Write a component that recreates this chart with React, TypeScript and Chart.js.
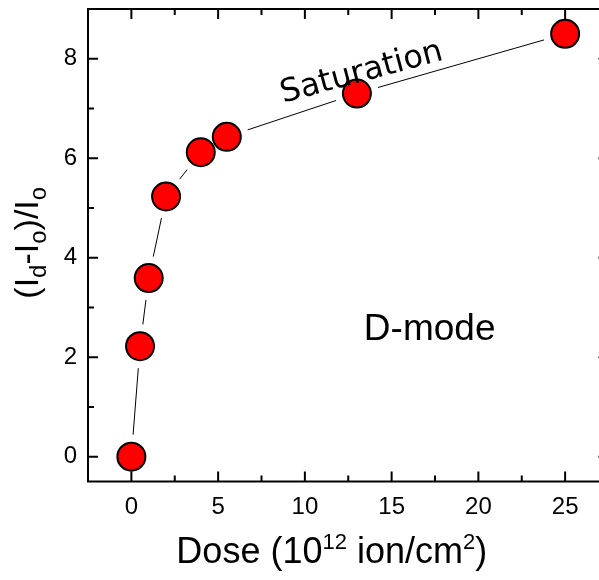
import React, { useEffect, useRef } from "react";
import { Chart, registerables } from "chart.js";

Chart.register(...registerables);

// ---- data ----
const doses = [0, 0.5, 1, 2, 4, 5.5, 13, 25];
const ratios = [0, 2.22, 3.59, 5.23, 6.12, 6.43, 7.3, 8.5];
const xTicks = [0, 5, 10, 15, 20, 25];
const xMinorTicks = [2.5, 7.5, 12.5, 17.5, 22.5];
const yTicks = [0, 2, 4, 6, 8];
const yMinorTicks = [1, 3, 5, 7];

const X_MIN = -2.5;
const X_MAX = 27.5;
const Y_MIN = -0.5;
const Y_MAX = 9;

const CANVAS_W = 620;
const CANVAS_H = 580;
const SANS = "'Liberation Sans', Arial, sans-serif";

type Seg = { t: string; size: number; dy: number };

function drawSegs(ctx: CanvasRenderingContext2D, segs: Seg[], cx: number, baseY: number) {
  let total = 0;
  for (const s of segs) {
    ctx.font = `${s.size}px ${SANS}`;
    total += ctx.measureText(s.t).width;
  }
  let x = cx - total / 2;
  ctx.textAlign = "left";
  ctx.textBaseline = "alphabetic";
  for (const s of segs) {
    ctx.font = `${s.size}px ${SANS}`;
    ctx.fillText(s.t, x, baseY + s.dy);
    x += ctx.measureText(s.t).width;
  }
}

const framePlugin = {
  id: "frameTicks",
  beforeDatasetsDraw(chart: any) {
    const { ctx, chartArea: ca, scales } = chart;
    const xs = scales.x;
    const ys = scales.y;
    ctx.save();
    ctx.strokeStyle = "#000";
    ctx.lineWidth = 2;
    const major = 10;
    const minor = 6;
    const xt = (v: number, len: number) => {
      const px = xs.getPixelForValue(v);
      ctx.beginPath();
      ctx.moveTo(px, ca.bottom);
      ctx.lineTo(px, ca.bottom - len);
      ctx.moveTo(px, ca.top);
      ctx.lineTo(px, ca.top + len);
      ctx.stroke();
    };
    const yt = (v: number, len: number) => {
      const py = ys.getPixelForValue(v);
      ctx.beginPath();
      ctx.moveTo(ca.left, py);
      ctx.lineTo(ca.left + len, py);
      ctx.moveTo(ca.right, py);
      ctx.lineTo(ca.right - len, py);
      ctx.stroke();
    };
    xTicks.forEach((v) => xt(v, major));
    xMinorTicks.forEach((v) => xt(v, minor));
    yTicks.forEach((v) => yt(v, major));
    yMinorTicks.forEach((v) => yt(v, minor));
    ctx.strokeRect(ca.left, ca.top, ca.right - ca.left, ca.bottom - ca.top);

    // connecting line with gaps near markers
    const meta = chart.getDatasetMeta(0);
    const pts = meta.data;
    const gap = 22;
    ctx.lineWidth = 1;
    for (let i = 0; i < pts.length - 1; i++) {
      const a = pts[i];
      const b = pts[i + 1];
      const dx = b.x - a.x;
      const dy = b.y - a.y;
      const d = Math.hypot(dx, dy);
      if (d <= 2 * gap) continue;
      const ux = dx / d;
      const uy = dy / d;
      ctx.beginPath();
      ctx.moveTo(a.x + ux * gap, a.y + uy * gap);
      ctx.lineTo(b.x - ux * gap, b.y - uy * gap);
      ctx.stroke();
    }
    ctx.restore();
  },
  afterDraw(chart: any) {
    const { ctx, scales } = chart;
    const xs = scales.x;
    const ys = scales.y;
    ctx.save();
    ctx.fillStyle = "#000";

    // x title
    drawSegs(
      ctx,
      [
        { t: "Dose (10", size: 36, dy: 0 },
        { t: "12", size: 22, dy: -14 },
        { t: " ion/cm", size: 36, dy: 0 },
        { t: "2", size: 22, dy: -14 },
        { t: ")", size: 36, dy: 0 },
      ],
      xs.getPixelForValue(11.55),
      563
    );

    // y title
    ctx.save();
    ctx.translate(38, ys.getPixelForValue(4.3));
    ctx.rotate(-Math.PI / 2);
    drawSegs(
      ctx,
      [
        { t: "(I", size: 34, dy: 0 },
        { t: "d", size: 24, dy: 8 },
        { t: "-I", size: 34, dy: 0 },
        { t: "o", size: 24, dy: 8 },
        { t: ")/I", size: 34, dy: 0 },
        { t: "o", size: 24, dy: 8 },
      ],
      0,
      0
    );
    ctx.restore();

    // D-mode
    ctx.font = `37px ${SANS}`;
    ctx.textAlign = "left";
    ctx.textBaseline = "alphabetic";
    ctx.fillText("D-mode", xs.getPixelForValue(13.4), ys.getPixelForValue(2.35));

    // Saturation
    ctx.save();
    ctx.translate(xs.getPixelForValue(13.4), ys.getPixelForValue(7.55));
    ctx.rotate((-15 * Math.PI) / 180);
    ctx.font = `32px 'DejaVu Sans', Verdana, sans-serif`;
    ctx.textAlign = "center";
    ctx.fillText("Saturation", 0, 0);
    ctx.restore();

    ctx.restore();
  },
};

export default function App() {
  const ref = useRef<HTMLCanvasElement | null>(null);
  useEffect(() => {
    if (!ref.current) return;
    const chart = new Chart(ref.current, {
      type: "scatter",
      data: {
        datasets: [
          {
            data: doses.map((d, i) => ({ x: d, y: ratios[i] })),
            showLine: false,
            pointRadius: 14,
            pointHoverRadius: 14,
            pointBackgroundColor: "#ff0000",
            pointBorderColor: "#000000",
            pointBorderWidth: 2,
            pointHoverBorderWidth: 2,
            clip: false,
          },
        ],
      },
      options: {
        animation: false,
        responsive: false,
        devicePixelRatio: 1,
        events: [],
        layout: {
          autoPadding: false,
          padding: { top: 9, right: CANVAS_W - 608.5, left: 0, bottom: 0 },
        },
        plugins: { legend: { display: false }, tooltip: { enabled: false } },
        scales: {
          x: {
            type: "linear",
            min: X_MIN,
            max: X_MAX,
            grid: { display: false, drawTicks: false },
            border: { display: false },
            ticks: {
              color: "#000",
              font: { family: SANS, size: 24 },
              padding: 11,
              maxRotation: 0,
            },
            afterBuildTicks: (s: any) => {
              s.ticks = xTicks.map((v) => ({ value: v }));
            },
            afterFit: (s: any) => {
              s.height = CANVAS_H - 481.5;
              s.paddingLeft = 0;
              s.paddingRight = 0;
              s.paddingTop = 0;
              s.paddingBottom = 0;
            },
          },
          y: {
            type: "linear",
            min: Y_MIN,
            max: Y_MAX,
            grid: { display: false, drawTicks: false },
            border: { display: false },
            ticks: {
              color: "#000",
              font: { family: SANS, size: 24 },
              padding: 11,
            },
            afterBuildTicks: (s: any) => {
              s.ticks = yTicks.map((v) => ({ value: v }));
            },
            afterFit: (s: any) => {
              s.width = 88;
              s.paddingLeft = 0;
              s.paddingRight = 0;
              s.paddingTop = 0;
              s.paddingBottom = 0;
            },
          },
        },
      },
      plugins: [framePlugin],
    });
    return () => chart.destroy();
  }, []);

  return (
    <div
      style={{
        position: "fixed",
        left: 0,
        top: 0,
        width: 599,
        height: 580,
        overflow: "hidden",
        background: "#fff",
      }}
    >
      <canvas
        ref={ref}
        width={CANVAS_W}
        height={CANVAS_H}
        style={{ display: "block", width: CANVAS_W, height: CANVAS_H }}
      />
    </div>
  );
}
